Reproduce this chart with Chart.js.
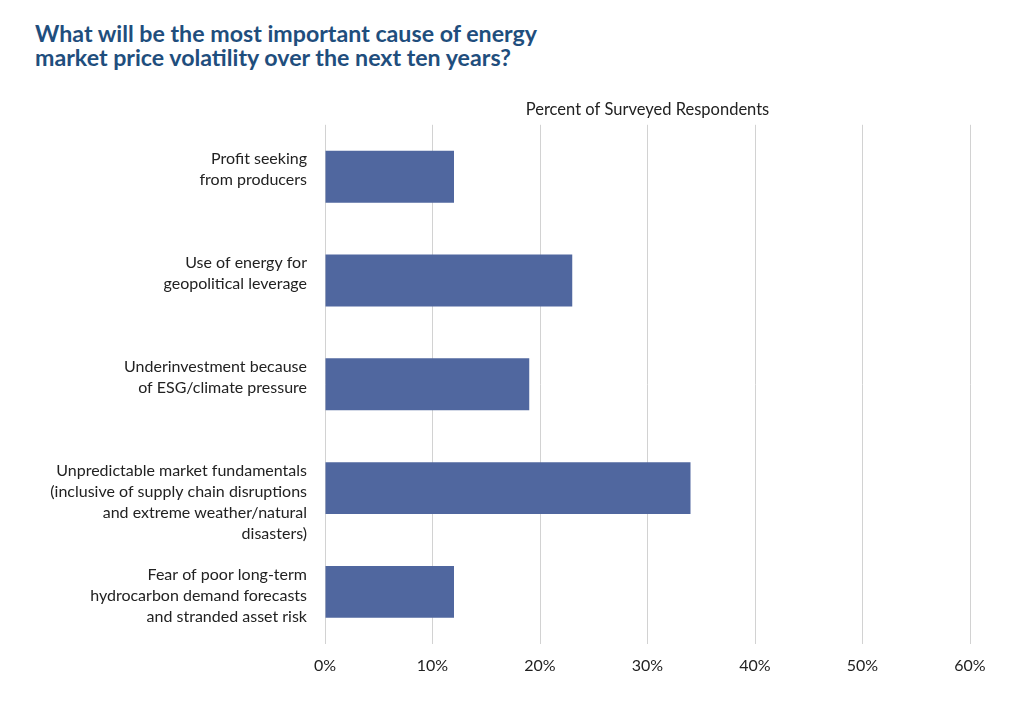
<!DOCTYPE html>
<html>
<head>
<meta charset="utf-8">
<script src="https://cdn.jsdelivr.net/npm/chart.js@4/dist/chart.umd.min.js"></script>
<style>
  html, body { margin: 0; padding: 0; background: #fff; }
  #wrap { position: relative; width: 1024px; height: 715px; }
  #title { position: absolute; left: 35px; top: 21px; margin: 0; font-family: Lato, sans-serif; font-weight: 700; font-size: 23.2px; line-height: 24px; color: #1f4e7d; letter-spacing: 0px; }
  canvas { position: absolute; left: 0; top: 0; }
</style>
</head>
<body>
<div id="wrap">
  <h1 id="title">What will be the most important cause of energy<br>market price volatility over the next ten years?</h1>
  <canvas id="c" width="1024" height="715"></canvas>
</div>
<script>
const categories = [
  ["Profit seeking", "from producers"],
  ["Use of energy for", "geopolitical leverage"],
  ["Underinvestment because", "of ESG/climate pressure"],
  ["Unpredictable market fundamentals", "(inclusive of supply chain disruptions", "and extreme weather/natural", "disasters)"],
  ["Fear of poor long-term", "hydrocarbon demand forecasts", "and stranded asset risk"]
];
const values = [12, 23, 19, 34, 12];
const xTicks = [0, 10, 20, 30, 40, 50, 60];
const axisTitle = "Percent of Surveyed Respondents";

const FONT = "Lato, sans-serif";

const labelPlugin = {
  id: 'topLabels',
  afterDraw(chart) {
    const ctx = chart.ctx;
    const meta = chart.getDatasetMeta(0);
    ctx.save();
    ctx.font = "16px " + FONT;
    ctx.fillStyle = "#222";
    ctx.textAlign = "right";
    ctx.textBaseline = "middle";
    const x = chart.chartArea.left - 18;
    meta.data.forEach((bar, i) => {
      const top = bar.y - bar.height / 2;
      categories[i].forEach((line, j) => {
        ctx.fillText(line, x, top + 8.5 + j * 21);
      });
    });
    ctx.restore();
  }
};

new Chart(document.getElementById('c'), {
  type: 'bar',
  data: {
    labels: categories.map(c => c.join(' ')),
    datasets: [{
      data: values,
      backgroundColor: '#50679f',
      borderWidth: 0,
      categoryPercentage: 1,
      barPercentage: 0.5
    }]
  },
  options: {
    indexAxis: 'y',
    responsive: false,
    animation: false,
    devicePixelRatio: 1,
    layout: { padding: { left: 325, right: 54, top: 100, bottom: 28 } },
    plugins: {
      legend: { display: false },
      tooltip: { enabled: false },
      title: {
        display: true,
        text: axisTitle,
        color: '#222',
        font: { family: FONT, size: 16.5, weight: 'normal' },
        padding: { top: 0, bottom: 5 }
      }
    },
    scales: {
      x: {
        min: 0, max: 60,
        afterBuildTicks: (s) => { s.ticks = xTicks.map(v => ({ value: v })); },
        grid: { color: '#d2d2d2', lineWidth: 1, drawTicks: false },
        border: { display: false },
        ticks: {
          color: '#222',
          font: { family: FONT, size: 16 },
          padding: 12,
          callback: (v) => v + '%'
        }
      },
      y: {
        display: false,
        offset: true,
        grid: { display: false }
      }
    }
  },
  plugins: [labelPlugin]
});
</script>
</body>
</html>
